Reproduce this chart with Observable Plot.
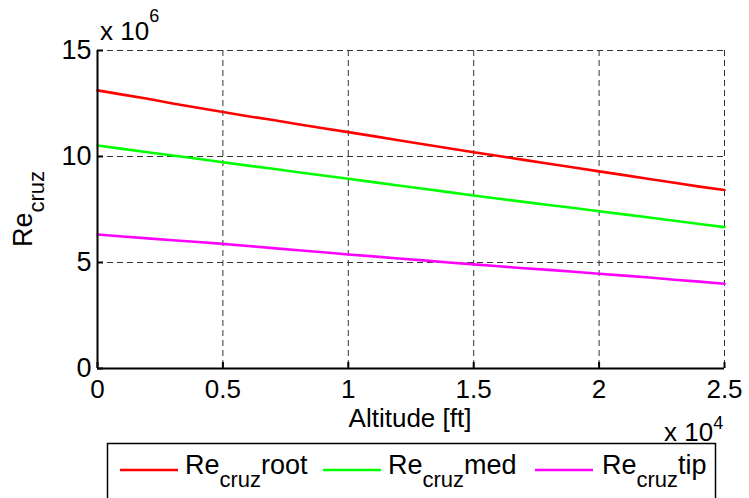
<!DOCTYPE html>
<html>
<head>
<meta charset="utf-8">
<script src="https://cdn.jsdelivr.net/npm/d3@7"></script>
<script src="https://cdn.jsdelivr.net/npm/@observablehq/plot@0.6"></script>
<style>
  html, body { margin: 0; padding: 0; background: #fff; }
  #wrap { position: relative; width: 749px; height: 498px; overflow: hidden; background: #fff;
          font-family: "Liberation Sans", Arial, sans-serif; }
  #overlay { position: absolute; left: 0; top: 0; pointer-events: none; }
</style>
</head>
<body>
<div id="wrap">
  <div id="chart"></div>
  <svg id="overlay" width="749" height="498"></svg>
</div>
<script>
// Altitude [ft] (axis shown in units of 10^4 ft)
const altitudeFt = [0, 1000, 2000, 3000, 4000, 5000, 6000, 7000, 8000, 9000, 10000,
  11000, 12000, 13000, 14000, 15000, 16000, 17000, 18000, 19000, 20000,
  21000, 22000, 23000, 24000, 25000];
// Reynolds numbers (units of 10^6)
const reRoot = [13.12, 12.92, 12.72, 12.50, 12.30, 12.10, 11.90, 11.72, 11.52, 11.33, 11.15,
  10.96, 10.77, 10.58, 10.39, 10.20, 10.02, 9.84, 9.66, 9.48, 9.30,
  9.12, 8.94, 8.76, 8.58, 8.42];
const reMed = [10.52, 10.36, 10.20, 10.05, 9.89, 9.73, 9.57, 9.42, 9.26, 9.10, 8.95,
  8.79, 8.63, 8.48, 8.32, 8.16, 8.01, 7.86, 7.71, 7.57, 7.42,
  7.27, 7.12, 6.97, 6.82, 6.67];
const reTip = [6.32, 6.23, 6.14, 6.05, 5.97, 5.88, 5.78, 5.68, 5.58, 5.48, 5.38,
  5.29, 5.19, 5.10, 5.00, 4.91, 4.82, 4.73, 4.65, 4.56, 4.47,
  4.38, 4.29, 4.19, 4.10, 4.00];
const seriesNames = ["root", "med", "tip"];
const seriesColors = ["#ff0000", "#00ff00", "#ff00ff"];
const xTicks = [0, 0.5, 1, 1.5, 2, 2.5];
const yTicks = [0, 5, 10, 15];

const allSeries = [reRoot, reMed, reTip];
const data = [];
allSeries.forEach((arr, si) => {
  arr.forEach((v, i) => data.push({series: seriesNames[si], alt: altitudeFt[i] / 1e4, re: v}));
});

const gridStyle = {stroke: "#333", strokeOpacity: 1, strokeWidth: 1, strokeDasharray: "6,4"};

const chart = Plot.plot({
  width: 749,
  height: 443,
  marginLeft: 97,
  marginRight: 25,
  marginTop: 50,
  marginBottom: 75,
  style: {fontFamily: "'Liberation Sans', Arial, sans-serif", fontSize: "27px", background: "#fff", color: "#000", overflow: "visible"},
  x: {domain: [0, 2.5]},
  y: {domain: [0, 15]},
  color: {domain: seriesNames, range: seriesColors},
  marks: [
    Plot.gridX(xTicks.filter(d => d > 0), gridStyle),
    Plot.gridY(yTicks.filter(d => d > 0), gridStyle),
    Plot.line(data, {x: "alt", y: "re", z: "series", stroke: "series", strokeWidth: 2.6}),
    Plot.axisX(xTicks, {tickSize: 0, tickPadding: 11, tickFormat: d => String(d), label: null, fontSize: 26}),
    Plot.axisX(xTicks, {tickSize: 6, fill: "none", dy: -6, strokeWidth: 2, label: null}),
    Plot.axisY(yTicks, {tickSize: 0, tickPadding: 6, tickFormat: d => String(d), label: null, fontSize: 27}),
    Plot.axisY(yTicks, {tickSize: 6, fill: "none", dx: 6, strokeWidth: 2, label: null}),
    Plot.ruleX([0], {stroke: "#000", strokeWidth: 2}),
    Plot.ruleY([0], {stroke: "#000", strokeWidth: 2})
  ]
});
document.getElementById("chart").appendChild(chart);

// Annotation texts and legend
const ov = d3.select("#overlay").style("font-family", "'Liberation Sans', Arial, sans-serif");

// y exponent
const ye = ov.append("text").attr("x", 100).attr("y", 40).attr("font-size", 26);
ye.append("tspan").text("x 10");
ye.append("tspan").attr("dy", -18).attr("font-size", 18).text("6");

// x exponent
const xe = ov.append("text").attr("x", 664).attr("y", 441).attr("font-size", 26);
xe.append("tspan").text("x 10");
xe.append("tspan").attr("dy", -12).attr("font-size", 18).text("4");

// x label
ov.append("text").attr("x", 410).attr("y", 427).attr("font-size", 26)
  .attr("text-anchor", "middle").text("Altitude [ft]");

// y label
const yl = ov.append("text").attr("transform", "translate(32,209) rotate(-90)")
  .attr("text-anchor", "middle").attr("font-size", 27);
yl.append("tspan").text("Re");
yl.append("tspan").attr("dy", 12).attr("font-size", 22).text("cruz");

// legend
ov.append("rect").attr("x", 107.5).attr("y", 443.5).attr("width", 608).attr("height", 80)
  .attr("fill", "#fff").attr("stroke", "#000").attr("stroke-width", 1.5);
const legendLineX = [120, 323, 535];
const legendTextX = [185, 388, 602];
seriesNames.forEach((name, i) => {
  ov.append("line").attr("x1", legendLineX[i]).attr("x2", legendLineX[i] + 58)
    .attr("y1", 470).attr("y2", 470).attr("stroke", seriesColors[i]).attr("stroke-width", 2.6);
  const t = ov.append("text").attr("x", legendTextX[i]).attr("y", 474).attr("font-size", 27);
  t.append("tspan").text("Re");
  t.append("tspan").attr("dy", 13).attr("font-size", 22).text("cruz");
  t.append("tspan").attr("dy", -13).text(name);
});
</script>
</body>
</html>
